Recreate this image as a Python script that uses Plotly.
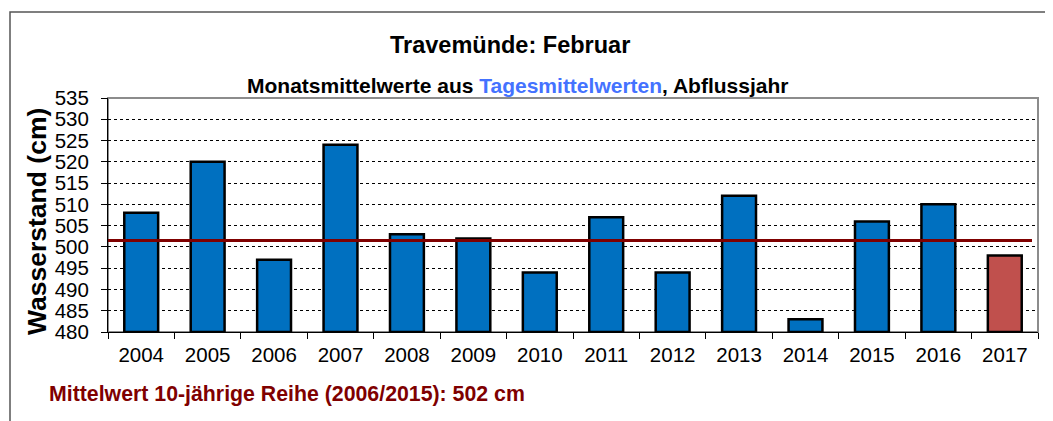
import plotly.graph_objects as go

years = ["2004", "2005", "2006", "2007", "2008", "2009", "2010", "2011",
         "2012", "2013", "2014", "2015", "2016", "2017"]
values = [508, 520, 497, 524, 503, 502, 494, 507, 494, 512, 483, 506, 510, 498]
mean_value = 501.5
y_ticks = list(range(480, 540, 5))

bar_colors = ["#0070C0"] * (len(years) - 1) + ["#C0504D"]

# page-pixel geometry of plot area (figure is offset 8px by body margin)
PX0, PX1, PY0, PY1 = 108, 1038, 98, 332
def px(x):
    return (x - PX0) / (PX1 - PX0)
def py(y):
    return (PY1 - y) / (PY1 - PY0)

fig = go.Figure()
fig.add_trace(go.Bar(
    x=years, y=[v - 480 for v in values], base=480,
    marker=dict(color=bar_colors, line=dict(color="#000000", width=2.5)),
    width=0.51, showlegend=False, hoverinfo="skip",
))

FONT = "Liberation Sans, Arial, sans-serif"

fig.update_layout(
    width=1045, height=413,
    margin=dict(l=PX0 - 8, r=1045 - (PX1 - 8), t=PY0 - 8, b=413 - (PY1 - 8)),
    paper_bgcolor="white", plot_bgcolor="white",
    font=dict(family=FONT, color="#000000"),
    bargap=0.49,
    showlegend=False,
    xaxis=dict(
        type="category", tickson="boundaries", ticks="outside", ticklen=6,
        tickcolor="#000", showline=True, linecolor="#000", linewidth=1,
        tickfont=dict(size=20.5, family=FONT), showgrid=False,
        range=[-0.5, len(years) - 0.5], ticklabelstandoff=4,
    ),
    yaxis=dict(
        range=[480, 535], tickvals=y_ticks, ticks="outside", ticklen=6,
        tickcolor="#000", showline=True, linecolor="#000", linewidth=1,
        tickfont=dict(size=20.5, family=FONT), ticklabelstandoff=8,
        showgrid=True, gridcolor="#000000", gridwidth=1, griddash="dot",
        zeroline=False,
    ),
)

# plot-area frame (gray top/right)
fig.add_shape(type="rect", xref="paper", yref="paper", x0=0, x1=1, y0=0, y1=1,
              line=dict(color="#8c8c8c", width=2), layer="below")
# outer chart frame
fig.add_shape(type="rect", xref="paper", yref="paper", x0=px(10), x1=1.05, y0=-0.6, y1=py(12),
              line=dict(color="#555555", width=1.5))
# mean line
fig.add_shape(type="line", xref="paper", yref="y", x0=0, x1=px(1032), y0=mean_value, y1=mean_value,
              line=dict(color="#7F0000", width=3), layer="above")

fig.add_annotation(text="<b>Wasserstand (cm)</b>", xref="paper", yref="paper",
                   x=px(37), y=py(222), textangle=-90, showarrow=False,
                   font=dict(size=26.5, family=FONT, color="#000"), xanchor="center", yanchor="middle")
fig.add_annotation(text="<b>Travemünde: Februar</b>", xref="paper", yref="paper",
                   x=px(510), y=py(45), showarrow=False,
                   font=dict(size=23.5, family=FONT, color="#000"), xanchor="center", yanchor="middle")
fig.add_annotation(
    text="<b>Monatsmittelwerte aus <span style='color:#4472FF'>Tagesmittelwerten</span>, Abflussjahr</b>",
    xref="paper", yref="paper", x=px(517), y=py(86), showarrow=False,
    font=dict(size=21, family=FONT, color="#000"), xanchor="center", yanchor="middle")
fig.add_annotation(text="<b>Mittelwert 10-jährige Reihe (2006/2015): 502 cm</b>",
                   xref="paper", yref="paper", x=px(47), y=py(394),
                   showarrow=False, font=dict(size=21.3, family=FONT, color="#7F0000"),
                   xanchor="left", yanchor="middle")

fig.write_html("out.html")
